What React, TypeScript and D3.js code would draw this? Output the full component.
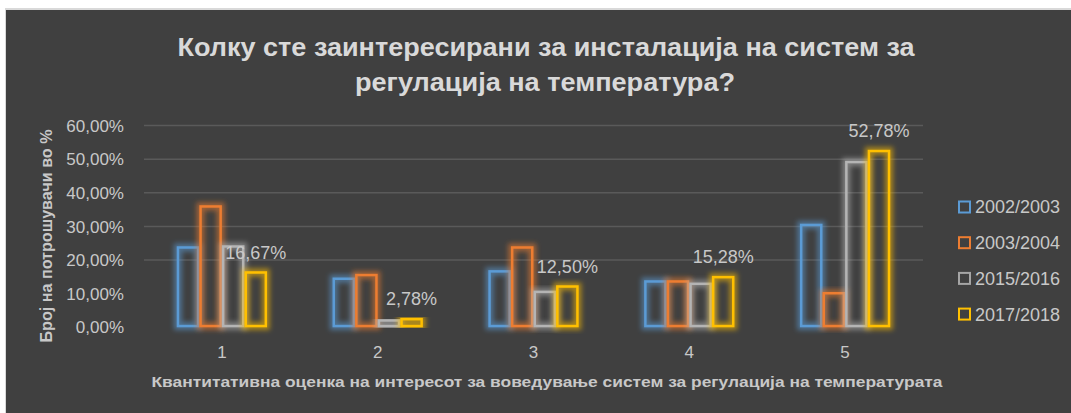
import React from "react";
import * as d3 from "d3";

const categories = ["1", "2", "3", "4", "5"];
const seriesNames = ["2002/2003", "2003/2004", "2015/2016", "2017/2018"];
const s2002 = [24.1, 14.8, 17.0, 14.0, 30.8];
const s2003 = [36.3, 15.9, 24.1, 14.0, 10.5];
const s2015 = [24.4, 2.4, 10.9, 13.3, 49.5];
const s2017 = [16.67, 2.78, 12.5, 15.28, 52.78];
const labelled = [true, true, true, true, true];
const yTicks = [0, 10, 20, 30, 40, 50, 60];
const gridTicks = [20, 30, 40, 50, 60];
const colors = ["#5b9bd5", "#ed7d31", "#b4b4b4", "#ffc000"];
const legendColors = ["#5b9bd5", "#ed7d31", "#a5a5a5", "#ffc000"];

const W = 1071;
const H = 413;
const fmt = (v: number) => v.toFixed(2).replace(".", ",") + "%";

export default function App() {
  const series = [s2002, s2003, s2015, s2017];
  const x = d3.scaleBand<string>().domain(categories).range([144, 923]).paddingInner(0.42).paddingOuter(0.21);
  const x1 = d3.scaleBand<string>().domain(seriesNames).range([0, x.bandwidth()]).padding(0);
  const y = d3.scaleLinear().domain([0, 60]).range([327.3, 125.5]);
  const txt = "#c8c8c8";
  const font = "'Liberation Sans', Arial, sans-serif";

  return (
    <svg width={W} height={H} style={{ position: "absolute", left: 0, top: 0 }}>
      <defs>
        <filter id="glow" x="-50%" y="-20%" width="200%" height="140%">
          <feGaussianBlur stdDeviation="2.4" />
        </filter>
      </defs>
      <rect x={0} y={0} width={W} height={H} fill="#ffffff" />
      <rect x={5} y={8} width={W - 5} height={H - 8} fill="#d9d9d9" />
      <rect x={6} y={10} width={W - 6} height={H - 10} fill="#404040" />

      <text x={546} y={56} textAnchor="middle" fontFamily={font} fontWeight="bold" fontSize={26} fill="#d9d9d9" textLength={737} lengthAdjust="spacingAndGlyphs">
        Колку сте заинтересирани за инсталација  на систем за
      </text>
      <text x={545} y={91} textAnchor="middle" fontFamily={font} fontWeight="bold" fontSize={26} fill="#d9d9d9" textLength={380} lengthAdjust="spacingAndGlyphs">
        регулација на температура?
      </text>

      {gridTicks.map((t) => (
        <line key={t} x1={144} x2={923} y1={y(t)} y2={y(t)} stroke="#5a5a5a" strokeWidth={1.5} />
      ))}

      {yTicks.map((t) => (
        <text key={t} x={124} y={y(t)} dy="0.36em" textAnchor="end" fontFamily={font} fontSize={17} fill={txt}>
          {fmt(t)}
        </text>
      ))}

      <text transform={`translate(52,236) rotate(-90)`} textAnchor="middle" fontFamily={font} fontWeight="bold" fontSize={16} fill={txt} textLength={213} lengthAdjust="spacingAndGlyphs">
        Број на потрошувачи во %
      </text>

      {categories.map((c, ci) => (
        <g key={c}>
          {series.map((s, si) => {
            const bx = (x(c) as number) + (x1(seriesNames[si]) as number);
            const bw = x1.bandwidth();
            const top = y(s[ci]);
            const h = y(0) - top;
            return (
              <g key={si}>
                <rect x={bx + 1.25} y={top + 1.25} width={bw - 2.5} height={Math.max(h - 2.5, 0.5)} fill="none" stroke={colors[si]} strokeOpacity={0.55} strokeWidth={8} filter="url(#glow)" />
                <rect x={bx + 1.25} y={top + 1.25} width={bw - 2.5} height={Math.max(h - 2.5, 0.5)} fill="none" stroke={colors[si]} strokeWidth={2.5} />
              </g>
            );
          })}
          {labelled[ci] && (
            <text x={(x(c) as number) + (x1(seriesNames[3]) as number) + x1.bandwidth() / 2} y={y(s2017[ci]) - 19} dy="0.36em" textAnchor="middle" fontFamily={font} fontSize={18} fill={txt}>
              {fmt(s2017[ci])}
            </text>
          )}
          <text x={(x(c) as number) + x.bandwidth() / 2} y={352} dy="0.36em" textAnchor="middle" fontFamily={font} fontSize={17} fill={txt}>
            {c}
          </text>
        </g>
      ))}

      <text x={547} y={382} dy="0.36em" textAnchor="middle" fontFamily={font} fontWeight="bold" fontSize={15} fill={txt} textLength={791} lengthAdjust="spacingAndGlyphs">
        Квантитативна оценка на интересот за воведување систем за регулација на температурата
      </text>

      {seriesNames.map((n, i) => (
        <g key={n} transform={`translate(958,${207 + i * 35.7})`}>
          <rect x={1} y={-5.5} width={11} height={11} fill="none" stroke={legendColors[i]} strokeWidth={2} />
          <text x={17} y={0} dy="0.36em" fontFamily={font} fontSize={18} fill={txt}>
            {n}
          </text>
        </g>
      ))}
    </svg>
  );
}
